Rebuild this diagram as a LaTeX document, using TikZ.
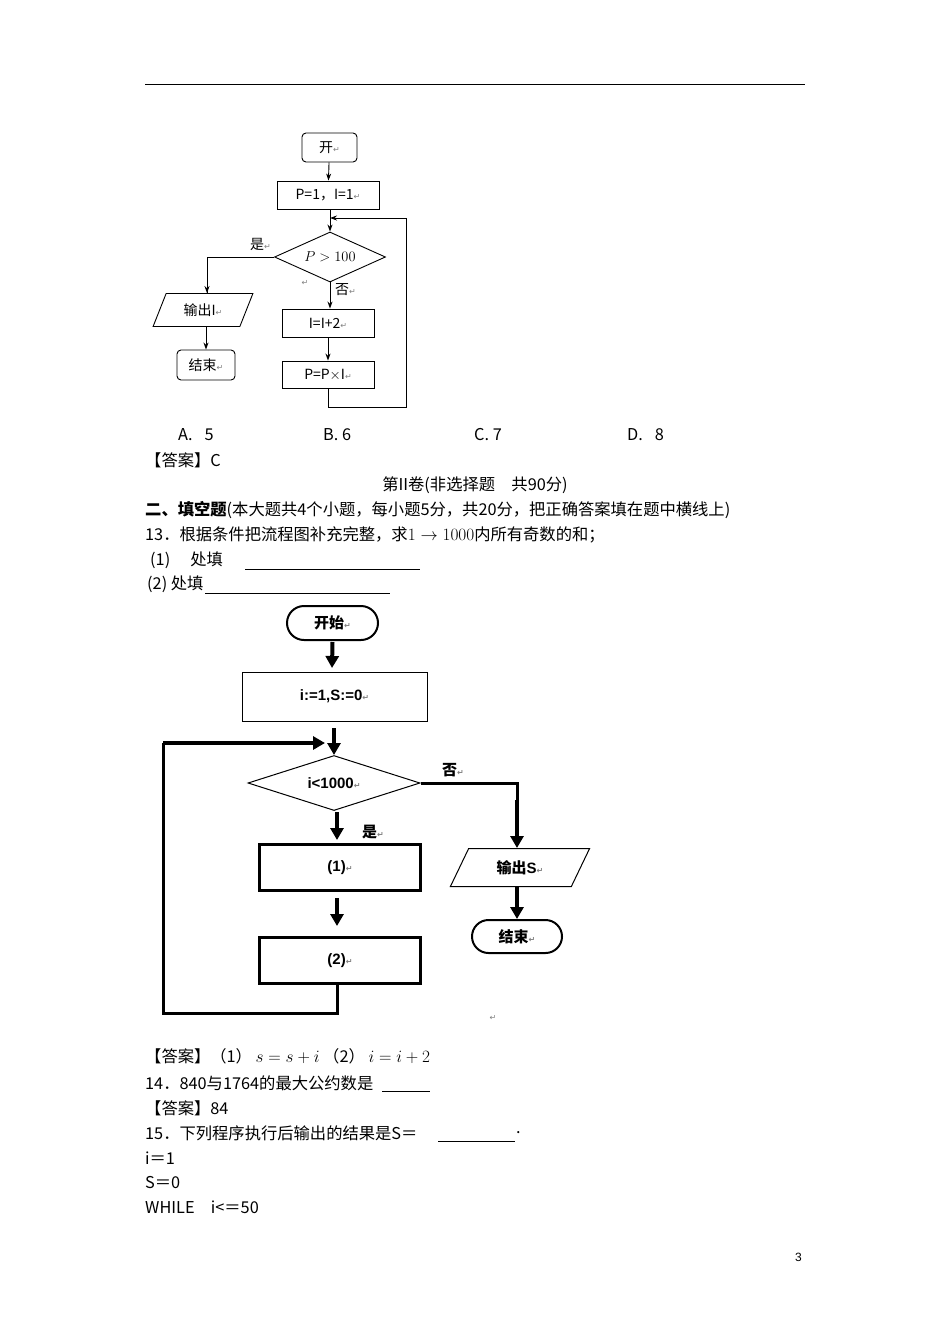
\documentclass[tikz,border=0pt]{standalone}
\usepackage{fontspec}
\setmainfont{Liberation Serif}
\newfontfamily\cjk{Noto Sans CJK SC}
\newfontfamily\arl{Liberation Sans}
\newfontfamily\dv{DejaVu Sans}
\usetikzlibrary{shapes.geometric,shapes.misc,arrows.meta}
\newcommand{\rt}{{\dv\fontsize{8}{8}\selectfont\textcolor{gray}{↵}}}
\begin{document}
\begin{tikzpicture}[x=1pt,y=-1pt,
  txt/.style={anchor=west,inner sep=0,font=\cjk\fontsize{16.3}{16}\selectfont},
  thin/.style={draw,line width=0.9pt},
  ar/.style={-{Stealth[length=7pt,width=5pt]},line width=0.9pt},
  thk/.style={line width=3pt},
  tar/.style={-{Triangle[length=12pt,width=13pt]},line width=4pt},
  f1/.style={font=\cjk\fontsize{14}{14}\selectfont,inner sep=0},
  f2/.style={font=\arl\bfseries\fontsize{15}{15}\selectfont,inner sep=0}]
\useasboundingbox (0,0) rectangle (950,1344);
\fill[white] (0,0) rectangle (950,1344);
\draw[line width=0.8pt] (145,84) -- (805,84);
% ---------- flowchart 1
\node[thin,rounded corners=4pt,minimum width=55pt,minimum height=29pt,f1] (s1) at (329.5,147.5) {开\rt};
\node[thin,minimum width=102pt,minimum height=28pt,f1] (init1) at (328,195) {P=1，I=1\rt};
\node[thin,diamond,aspect=2.2,minimum width=111pt,minimum height=50pt,inner sep=0,f1] (d1) at (330,257) {$P>100$};
\node[thin,trapezium,trapezium left angle=62,trapezium right angle=118,trapezium stretches=true,minimum width=100pt,minimum height=33pt,f1] (o1) at (203,310) {输出I\rt};
\node[thin,rounded corners=4pt,minimum width=58pt,minimum height=30pt,f1] (e1) at (206,365) {结束\rt};
\node[thin,minimum width=92pt,minimum height=28pt,f1] (a1) at (328,323) {I=I+2\rt};
\node[thin,minimum width=92pt,minimum height=27pt,f1] (b1) at (328,374.5) {P=P$\times$I\rt};
\coordinate (j1) at (330,218);
\draw[ar] (s1) -- (init1);
\draw[ar] (init1.south -| j1) -- (d1.north);
\draw[line width=0.9pt] (d1.west) -| (207,294);
\draw[ar] (207,280) -- (o1.north -| 207,0);
\draw[ar] (o1.south -| e1) -- (e1);
\draw[ar] (d1.south) -- (a1.north -| d1);
\draw[ar] (a1) -- (b1);
\draw[ar] (b1.south) -- (328,407) -- (406,407) -- (406,218) -- (j1);
\node[f1,anchor=south east] at (271,251) {是\rt};
\node[f1,anchor=west] at (335,290) {否\rt};
\node at (305,283) {\rt};
% ---------- text
\node[txt] at (178,435) {A.\hspace{12pt}5};
\node[txt] at (323,435) {B. 6};
\node[txt] at (474,435) {C. 7};
\node[txt] at (627,435) {D.\hspace{12pt}8};
\node[txt] at (145,460) {【答案】C};
\node[txt,anchor=center] at (475,485) {第II卷(非选择题　共90分)};
\node[txt] at (145,510) {\textbf{二、填空题}(本大题共4个小题，每小题5分，共20分，把正确答案填在题中横线上)};
\node[txt] at (145,535) {13．根据条件把流程图补充完整，求$1\rightarrow 1000$内所有奇数的和；};
\node[txt] at (150,560) {(1)\hspace{20pt}处填};
\draw[line width=0.6pt] (245,569) -- (420,569);
\node[txt] at (147,584) {(2) 处填};
\draw[line width=0.6pt] (205,593) -- (390,593);
% ---------- flowchart 2
\node[draw,line width=2pt,rounded rectangle,minimum width=91pt,minimum height=34pt,f2] (s2) at (332.5,623) {\cjk\bfseries 开始\rt};
\node[draw,line width=1pt,minimum width=185pt,minimum height=49pt,f2] (init2) at (334.5,696.5) {i:=1,S:=0\rt};
\node[draw,line width=1pt,diamond,aspect=3.1,minimum width=172pt,minimum height=55pt,inner sep=0,f2] (d2) at (334,783) {i<1000\rt};
\node[draw,line width=3pt,minimum width=161pt,minimum height=46pt,f2] (p1) at (340,867.5) {(1)\rt};
\node[draw,line width=3pt,minimum width=161pt,minimum height=46pt,f2] (p2) at (340,960.5) {(2)\rt};
\node[draw,line width=1pt,trapezium,trapezium left angle=60,trapezium right angle=120,trapezium stretches=true,minimum width=140pt,minimum height=38pt,f2] (o2) at (520,867.5) {\cjk\bfseries 输出\arl S\rt};
\node[draw,line width=2pt,rounded rectangle,minimum width=90pt,minimum height=33pt,f2] (e2) at (517,936.5) {\cjk\bfseries 结束\rt};
\coordinate (j2) at (334,743);
\draw[tar] (s2.south) ++(0,1) -- (332,668);
\draw[tar] (334,728) -- (d2.north);
\draw[thk] (d2.east) -- (517,783) -- (517,820);
\draw[tar] (517,800) -- (o2.north -| 517,0);
\draw[tar] (337,812) -- (337,840);
\draw[tar] (337,898) -- (337,926);
\draw[tar] (o2.south -| 517,0) -- (e2.north);
\draw[thk] (p2.south -| 337,0) -- (337,1013) -- (163,1013) -- (163,743);
\draw[tar] (163,743) -- (325,743);
\node[f1,anchor=west,font=\cjk\bfseries\fontsize{15}{15}\selectfont] at (442,770) {否\rt};
\node[f1,anchor=west,font=\cjk\bfseries\fontsize{15}{15}\selectfont] at (362,832) {是\rt};
\node at (493,1018) {\rt};
% ---------- bottom text
\node[txt] at (145,1056) {【答案】（1） $s=s+i$ （2） $i=i+2$};
\node[txt] at (145,1083) {14．840与1764的最大公约数是};
\draw[line width=0.6pt] (382,1091) -- (430,1091);
\node[txt] at (145,1108) {【答案】84};
\node[txt] at (145,1133) {15．下列程序执行后输出的结果是S＝};
\draw[line width=0.6pt] (438,1141) -- (515,1141);
\node[txt] at (516,1133) {.};
\node[txt] at (145,1158) {i＝1};
\node[txt] at (145,1183) {S＝0};
\node[txt] at (145,1207) {WHILE　i<＝50};
\node[txt,font=\arl\fontsize{12}{12}\selectfont] at (795,1257) {3};
\end{tikzpicture}
\end{document}
